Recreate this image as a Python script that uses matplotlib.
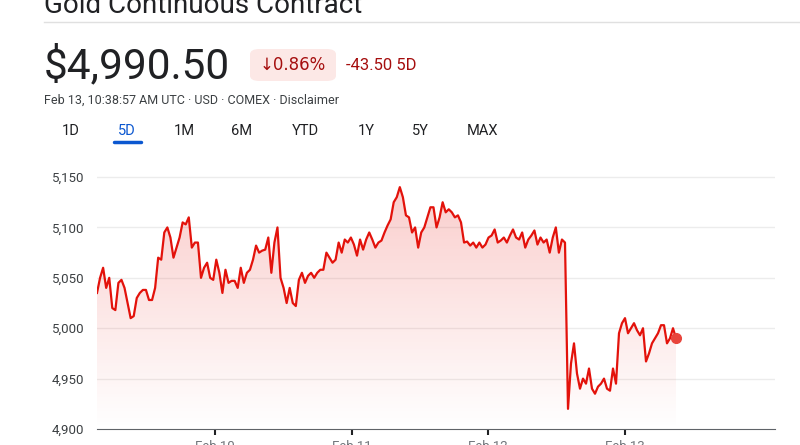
import numpy as np
import matplotlib.pyplot as plt
from matplotlib.patches import FancyBboxPatch

plt.rcParams['font.family'] = ['Roboto', 'DejaVu Sans']

# prices before the drop (Feb 9 evening .. Feb 12 afternoon)
pre_drop = [5035, 5050, 5060, 5040, 5050, 5020, 5018, 5045, 5048, 5040, 5025, 5010,
            5012, 5030, 5035, 5038, 5038, 5028, 5028, 5040, 5070, 5068, 5095, 5100,
            5090, 5070, 5080, 5090, 5105, 5103, 5110, 5080, 5085, 5085, 5050, 5060,
            5065, 5050, 5048, 5068, 5055, 5035, 5058, 5045, 5047, 5047, 5040, 5060,
            5045, 5055, 5058, 5068, 5082, 5075, 5077, 5078, 5090, 5055, 5085, 5100,
            5050, 5040, 5025, 5040, 5025, 5022, 5048, 5055, 5045, 5052, 5055, 5050,
            5055, 5058, 5058, 5075, 5070, 5065, 5068, 5085, 5075, 5088, 5085, 5090,
            5083, 5072, 5088, 5078, 5088, 5095, 5088, 5080, 5085, 5087, 5095, 5102,
            5108, 5125, 5130, 5140, 5130, 5112, 5110, 5095, 5100, 5080, 5095, 5100,
            5110, 5120, 5120, 5100, 5110, 5125, 5115, 5118, 5115, 5110, 5112, 5105,
            5085, 5086, 5082, 5085, 5080, 5085, 5080, 5083, 5090, 5092, 5098, 5085,
            5087, 5090, 5085, 5092, 5098, 5090, 5088, 5095, 5080, 5088, 5092, 5097,
            5083, 5090, 5085, 5088, 5075, 5090, 5100, 5075, 5088, 5085]
# prices after the drop (Feb 12 afternoon .. Feb 13 morning)
post_drop = [4920, 4965, 4985, 4955, 4940, 4950, 4945, 4960, 4940, 4935, 4942, 4945,
             4950, 4940, 4938, 4960, 4945, 4995, 5005, 5010, 4995, 5000, 5005, 4998,
             4993, 5000, 4967, 4975, 4985, 4990, 4995, 5003, 5003, 4985, 4990, 5000,
             4990]
y_ticks = [4900, 4950, 5000, 5050, 5100, 5150]
date_ticks = ["Feb 10", "Feb 11", "Feb 12", "Feb 13"]

# x in "pixel-hour" units across the 5 day window
x_pre = np.linspace(0, 468, len(pre_drop))
x_post = 471 + 3 * np.arange(len(post_drop))
x = np.concatenate([x_pre, x_post])
y = np.array(pre_drop + post_drop, dtype=float)

fig = plt.figure(figsize=(8, 4.45), dpi=100)
ax = fig.add_axes([97 / 800, 1 - 429 / 445, 678 / 800, 259 / 445])
ax.set_xlim(0, 678)
ax.set_ylim(4900, 5157)

red = '#e3120b'
ax.plot(x, y, color=red, lw=1.6, zorder=3, solid_joinstyle='round')
ax.plot(x[-1], y[-1], 'o', color='#e8453c', ms=7, zorder=4)

# gradient fill under the curve
grad = np.linspace(0.28, 0.0, 256).reshape(-1, 1)
rgba = np.zeros((256, 1, 4))
rgba[..., 0], rgba[..., 1], rgba[..., 2] = 0.93, 0.3, 0.28
rgba[..., 3] = grad
img = ax.imshow(rgba, extent=[0, x[-1], 4900, 5145], aspect='auto', zorder=1, origin='upper')
poly = ax.fill_between(x, y, 4900, color='none')
img.set_clip_path(poly.get_paths()[0], transform=ax.transData)

for v in y_ticks[1:]:
    ax.axhline(v, color='#ececec', lw=1, zorder=0)
ax.set_yticks(y_ticks)
ax.set_yticklabels([f"{v:,}" for v in y_ticks], fontsize=9.5, color='#3c4043')
ax.set_xticks([118, 255, 391, 528])
ax.set_xticklabels(date_ticks, fontsize=9.5, color='#70757a')
ax.tick_params(axis='y', length=0, pad=9)
ax.tick_params(axis='x', length=4, width=1.5, color='#202124', pad=4)
for s in ['top', 'right', 'left']:
    ax.spines[s].set_visible(False)
ax.spines['bottom'].set_color('#5f6368')

# header
fig.text(44 / 800, 1 + 8 / 445, "Gold Continuous Contract", fontsize=20, color='#202124', va='top')
fig.add_artist(plt.Line2D([44 / 800, 1], [1 - 22 / 445] * 2, color='#e0e0e0', lw=1))
fig.text(44 / 800, 1 - 66 / 445, "$4,990.50", fontsize=30.5, color='#202124', va='center')
fig.add_artist(FancyBboxPatch((250 / 800, 1 - 81 / 445), 86 / 800, 32 / 445,
                              boxstyle="round,pad=0,rounding_size=0.012",
                              fc='#fce8e6', ec='none', transform=fig.transFigure))
fig.text(293 / 800, 1 - 65 / 445, "↓0.86%", fontsize=12, color='#a50e0e', ha='center', va='center',
         family=['DejaVu Sans'])
fig.text(346 / 800, 1 - 65 / 445, "-43.50 5D", fontsize=12, color='#a50e0e', va='center')
fig.text(44 / 800, 1 - 100 / 445, "Feb 13, 10:38:57 AM UTC · USD · COMEX · Disclaimer",
         fontsize=9, color='#3c4043', va='center')
tabs = ["1D", "5D", "1M", "6M", "YTD", "1Y", "5Y", "MAX"]
tab_x = [71, 127, 184, 242, 305, 366, 420, 483]
for t, tx in zip(tabs, tab_x):
    fig.text(tx / 800, 1 - 131 / 445, t, fontsize=10.5, ha='center', va='center',
             color='#0b57d0' if t == "5D" else '#202124')
fig.add_artist(plt.Line2D([114 / 800, 141 / 800], [1 - 142 / 445] * 2, color='#0b57d0', lw=2.5,
                          solid_capstyle='round'))

fig.savefig('out.png', dpi=100)
